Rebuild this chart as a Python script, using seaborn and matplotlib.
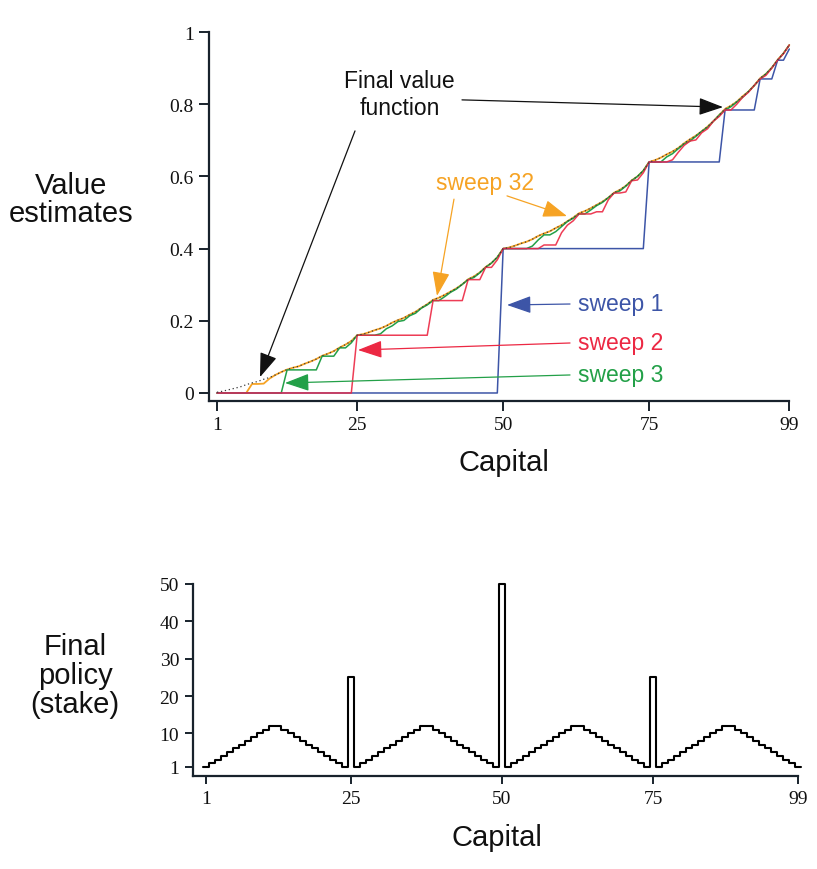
import matplotlib
matplotlib.use("Agg")
import numpy as np
import pandas as pd
import matplotlib.pyplot as plt
import seaborn as sns

# ---------------- data ----------------
capital = list(range(1, 100))

sweep1 = [0, 0, 0, 0, 0, 0, 0, 0, 0, 0, 0, 0, 0, 0, 0, 0, 0, 0, 0, 0, 0, 0, 0, 0, 0,
          0, 0, 0, 0, 0, 0, 0, 0, 0, 0, 0, 0, 0, 0, 0, 0, 0, 0, 0, 0, 0, 0, 0, 0,
          0.4, 0.4, 0.4, 0.4, 0.4, 0.4, 0.4, 0.4, 0.4, 0.4, 0.4, 0.4, 0.4, 0.4, 0.4, 0.4,
          0.4, 0.4, 0.4, 0.4, 0.4, 0.4, 0.4, 0.4, 0.4,
          0.64, 0.64, 0.64, 0.64, 0.64, 0.64, 0.64, 0.64, 0.64, 0.64, 0.64, 0.64, 0.64,
          0.784, 0.784, 0.784, 0.784, 0.784, 0.784,
          0.870, 0.870, 0.870, 0.922, 0.922, 0.953]

sweep2 = [0, 0, 0, 0, 0, 0, 0, 0, 0, 0, 0, 0, 0, 0, 0, 0, 0, 0, 0, 0, 0, 0, 0, 0,
          0.16, 0.16, 0.16, 0.16, 0.16, 0.16, 0.16, 0.16, 0.16, 0.16, 0.16, 0.16, 0.16,
          0.256, 0.256, 0.256, 0.256, 0.256, 0.256,
          0.314, 0.314, 0.314, 0.348, 0.348, 0.369,
          0.4, 0.4, 0.4, 0.4, 0.4, 0.4, 0.4,
          0.410, 0.410, 0.410, 0.444, 0.465, 0.477,
          0.496, 0.496, 0.496, 0.502, 0.502, 0.535, 0.554, 0.554, 0.557, 0.588, 0.590, 0.610,
          0.64, 0.64, 0.64, 0.64, 0.646, 0.667, 0.686, 0.698, 0.701, 0.721, 0.732, 0.753, 0.766,
          0.784, 0.784, 0.800, 0.819, 0.833, 0.852, 0.870, 0.880, 0.900, 0.922, 0.940, 0.964]

sweep3 = [0, 0, 0, 0, 0, 0, 0, 0, 0, 0, 0, 0,
          0.064, 0.064, 0.064, 0.064, 0.064, 0.064,
          0.102, 0.102, 0.102, 0.125, 0.125, 0.139,
          0.16, 0.16, 0.16, 0.16, 0.164, 0.178, 0.186, 0.198, 0.201, 0.214, 0.221, 0.235,
          0.244, 0.256, 0.256, 0.267, 0.279, 0.288, 0.301, 0.314, 0.320, 0.333, 0.348,
          0.360, 0.376, 0.4,
          0.4, 0.4, 0.4, 0.4, 0.407, 0.424, 0.438, 0.438, 0.447, 0.461, 0.475, 0.484,
          0.496, 0.496, 0.507, 0.519, 0.528, 0.541, 0.554, 0.560, 0.573, 0.588, 0.600, 0.616,
          0.64, 0.64, 0.64, 0.654, 0.663, 0.677, 0.690, 0.698, 0.711, 0.725, 0.736, 0.753,
          0.770, 0.784, 0.793, 0.806, 0.819, 0.835, 0.852, 0.870, 0.884, 0.901, 0.922,
          0.941, 0.964]

sweep32 = [0, 0, 0, 0, 0, 0, 0.025, 0.025, 0.026, 0.040,
           0.050, 0.058, 0.065, 0.070, 0.074, 0.081, 0.087, 0.094, 0.103, 0.109,
           0.116, 0.126, 0.134, 0.144, 0.160, 0.163, 0.168, 0.174, 0.179, 0.186,
           0.195, 0.202, 0.208, 0.217, 0.225, 0.236, 0.246, 0.258, 0.264, 0.272,
           0.281, 0.290, 0.301, 0.315, 0.323, 0.334, 0.349, 0.360, 0.376, 0.400,
           0.403, 0.408, 0.414, 0.419, 0.426, 0.435, 0.442, 0.448, 0.457, 0.465,
           0.476, 0.486, 0.498, 0.504, 0.512, 0.521, 0.530, 0.541, 0.555, 0.563,
           0.574, 0.589, 0.600, 0.616, 0.640, 0.645, 0.652, 0.661, 0.669, 0.679,
           0.692, 0.703, 0.713, 0.725, 0.738, 0.753, 0.770, 0.787, 0.796, 0.807,
           0.822, 0.835, 0.852, 0.872, 0.884, 0.901, 0.923, 0.941, 0.964]

final_value = [0.002, 0.005, 0.009, 0.013, 0.017, 0.023, 0.028, 0.032, 0.038, 0.043,
               0.050, 0.058, 0.065, 0.070, 0.074, 0.081, 0.087, 0.094, 0.103, 0.109,
               0.116, 0.126, 0.134, 0.144, 0.160, 0.163, 0.168, 0.174, 0.179, 0.186,
               0.195, 0.202, 0.208, 0.217, 0.225, 0.236, 0.246, 0.258, 0.264, 0.272,
               0.281, 0.290, 0.301, 0.315, 0.323, 0.334, 0.349, 0.360, 0.376, 0.400,
               0.403, 0.408, 0.414, 0.419, 0.426, 0.435, 0.442, 0.448, 0.457, 0.465,
               0.476, 0.486, 0.498, 0.504, 0.512, 0.521, 0.530, 0.541, 0.555, 0.563,
               0.574, 0.589, 0.600, 0.616, 0.640, 0.645, 0.652, 0.661, 0.669, 0.679,
               0.692, 0.703, 0.713, 0.725, 0.738, 0.753, 0.770, 0.787, 0.796, 0.807,
               0.822, 0.835, 0.852, 0.872, 0.884, 0.901, 0.923, 0.941, 0.964]

policy = [1, 2, 3, 4, 5, 6, 7, 8, 9, 10, 11, 12,
          12, 11, 10, 9, 8, 7, 6, 5, 4, 3, 2, 1,
          25,
          1, 2, 3, 4, 5, 6, 7, 8, 9, 10, 11, 12,
          12, 11, 10, 9, 8, 7, 6, 5, 4, 3, 2, 1,
          50,
          1, 2, 3, 4, 5, 6, 7, 8, 9, 10, 11, 12,
          12, 11, 10, 9, 8, 7, 6, 5, 4, 3, 2, 1,
          25,
          1, 2, 3, 4, 5, 6, 7, 8, 9, 10, 11, 12,
          12, 11, 10, 9, 8, 7, 6, 5, 4, 3, 2, 1]

x_ticks = [1, 25, 50, 75, 99]
value_ticks = [0, 0.2, 0.4, 0.6, 0.8, 1]
value_tick_labels = ["0", "0.2", "0.4", "0.6", "0.8", "1"]
policy_ticks = [1, 10, 20, 30, 40, 50]

# ---------------- style ----------------
sns.set_style("ticks")
plt.rcParams["font.family"] = ["Liberation Sans", "DejaVu Sans"]

BLUE = "#3d55a7"
RED = "#ec2843"
GREEN = "#23a048"
ORANGE = "#f6a324"
AXC = "#18222c"
SERIF = "Liberation Serif"

fig = plt.figure(figsize=(8.17, 8.70), dpi=100)

# ---------------- top panel ----------------
ax1 = fig.add_axes([209 / 817, 1 - 402 / 870, 583 / 817, 374 / 870])
df = pd.DataFrame({"capital": capital, "s1": sweep1, "s2": sweep2,
                   "s3": sweep3, "s32": sweep32, "final": final_value})
lw = 1.1
sns.lineplot(data=df, x="capital", y="s32", ax=ax1, color=ORANGE, lw=1.3, zorder=3)
sns.lineplot(data=df, x="capital", y="s3", ax=ax1, color=GREEN, lw=lw, zorder=4)
sns.lineplot(data=df, x="capital", y="s1", ax=ax1, color=BLUE, lw=lw, zorder=5)
sns.lineplot(data=df, x="capital", y="s2", ax=ax1, color=RED, lw=lw, zorder=6, alpha=0.9)
sns.lineplot(data=df, x="capital", y="final", ax=ax1, color="#3a3a3a", lw=0.9,
             linestyle=(0, (1, 2.2)), zorder=7)

ax1.set_xlim(-0.37, 99.46)
ax1.set_ylim(-0.0222, 1.0139)
ax1.set_xticks(x_ticks)
ax1.set_xticklabels([str(t) for t in x_ticks])
ax1.set_yticks(value_ticks)
ax1.set_yticklabels(value_tick_labels)
ax1.set_xlabel("")
ax1.set_ylabel("")
sns.despine(ax=ax1)
ax1.spines["left"].set_bounds(-0.0222, 1)
ax1.spines["bottom"].set_bounds(-0.37, 99)

# annotations
afs = 16.5
ax1.text(32.3, 0.828, "Final value\nfunction", ha="center", va="center",
         fontsize=afs, color="#111111", linespacing=1.2)
ax1.text(46.9, 0.584, "sweep 32", ha="center", va="center", fontsize=afs, color=ORANGE)
ax1.text(62.8, 0.249, "sweep 1", ha="left", va="center", fontsize=afs, color=BLUE)
ax1.text(62.8, 0.141, "sweep 2", ha="left", va="center", fontsize=afs, color=RED)
ax1.text(62.8, 0.052, "sweep 3", ha="left", va="center", fontsize=afs, color=GREEN)

def arrow(ax, tail, tip, color):
    ax.annotate("", xy=tip, xytext=tail,
                arrowprops=dict(arrowstyle="-|>,head_length=0.75,head_width=0.27",
                                color=color, lw=0.9, shrinkA=0, shrinkB=0,
                                mutation_scale=20), zorder=8)

arrow(ax1, (24.63, 0.726), (8.36, 0.044), "#111111")
arrow(ax1, (42.95, 0.812), (87.64, 0.792), "#111111")
arrow(ax1, (41.58, 0.537), (38.67, 0.269), ORANGE)
arrow(ax1, (50.66, 0.546), (60.93, 0.490), ORANGE)
arrow(ax1, (61.45, 0.2465), (50.66, 0.2438), BLUE)
arrow(ax1, (61.45, 0.1385), (25.14, 0.119), RED)
arrow(ax1, (61.45, 0.0499), (12.64, 0.0277), GREEN)

# ---------------- bottom panel ----------------
ax2 = fig.add_axes([193 / 817, 1 - 777 / 870, 610 / 817, 199 / 870])
dfp = pd.DataFrame({"capital": capital, "stake": policy})
edges = [c - 0.5 for c in capital] + [capital[-1] + 0.5]
sns.histplot(data=dfp, x="capital", weights="stake", bins=edges, element="step",
             fill=False, color="black", lw=1.5, ax=ax2)
ax2.set_xlim(-1.152, 99.84)
ax2.set_ylim(-1.41, 51.87)
ax2.set_xticks(x_ticks)
ax2.set_xticklabels([str(t) for t in x_ticks])
ax2.set_yticks(policy_ticks)
ax2.set_yticklabels([str(t) for t in policy_ticks])
ax2.set_xlabel("")
ax2.set_ylabel("")
sns.despine(ax=ax2)
ax2.spines["left"].set_bounds(-1.41, 50)
ax2.spines["bottom"].set_bounds(-1.152, 99)

for ax, tl in ((ax1, 7), (ax2, 6)):
    for sp in ("left", "bottom"):
        ax.spines[sp].set_linewidth(1.6)
        ax.spines[sp].set_color(AXC)
    ax.tick_params(axis="both", direction="out", length=tl, width=1.4,
                   color=AXC, labelsize=14, pad=4, labelcolor="#111111")
    for lab in ax.get_xticklabels() + ax.get_yticklabels():
        lab.set_fontfamily(SERIF)

# ---------------- axis titles ----------------
lfs = 21
fig.text(71 / 817, 1 - 200 / 870, "Value\nestimates", ha="center", va="center",
         fontsize=lfs, linespacing=1.0, color="#111111")
fig.text(504 / 817, 1 - 463 / 870, "Capital", ha="center", va="center",
         fontsize=lfs, color="#111111")
fig.text(75 / 817, 1 - 676 / 870, "Final\npolicy\n(stake)", ha="center", va="center",
         fontsize=lfs, linespacing=1.05, color="#111111")
fig.text(497 / 817, 1 - 838 / 870, "Capital", ha="center", va="center",
         fontsize=lfs, color="#111111")

fig.savefig("out.png", dpi=100)
